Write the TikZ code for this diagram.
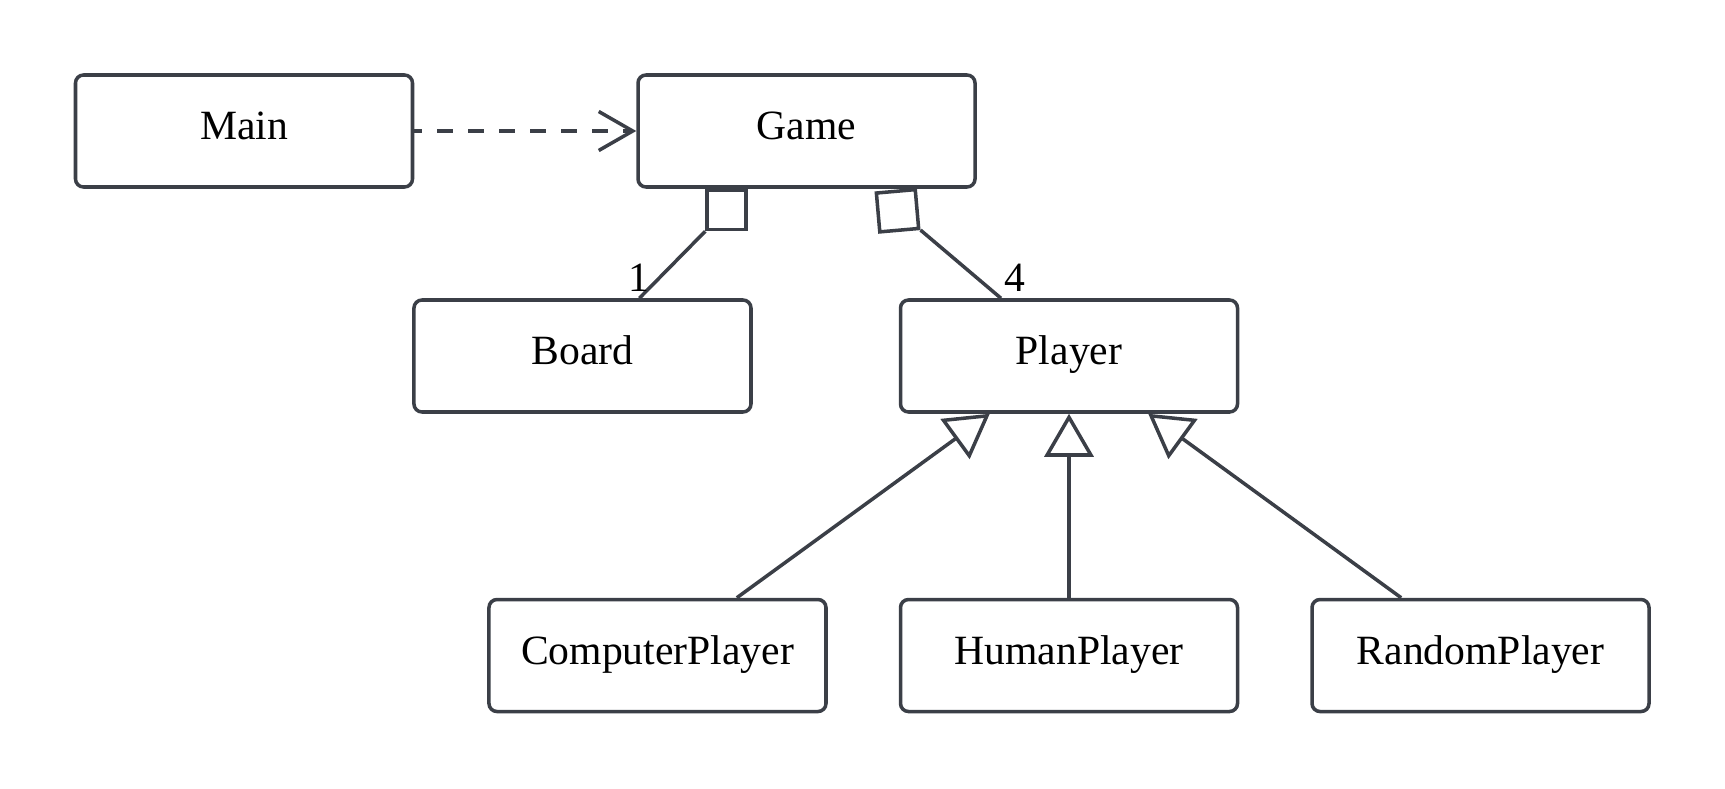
\documentclass[tikz,border=0pt]{standalone}
\usepackage{fontspec}
\setmainfont{Liberation Serif}
\usepackage{tikz}
\usetikzlibrary{shapes,arrows.meta,positioning,calc}
\definecolor{umlgray}{RGB}{59,63,71}

\begin{document}
\begin{tikzpicture}[
  font=\fontsize{23.7}{28}\selectfont,
  cls/.style={draw=umlgray, line width=2pt, rectangle, rounded corners=0.16cm,
    minimum width=6.74cm, minimum height=2.24cm, text height=0.6cm, text depth=0.26cm},
  agg/.style={draw=umlgray, line width=2pt, fill=white, minimum size=0.78cm, inner sep=0pt},
  link/.style={draw=umlgray, line width=2pt},
  inherit/.style={link, -{Triangle[open, length=0.86cm, width=0.98cm]}},
  dep/.style={link, dash pattern=on 0.32cm off 0.3cm, dash phase=0.16cm,
    -{Straight Barb[length=0.68cm, width=0.78cm]}},
  mult/.style={inner sep=1pt}
]
\useasboundingbox (-4.88,-13.14) rectangle (29.62,2.62);

% Main类
\node[cls] (main) at (0,0) {Main};

% Game类
\node[cls, right=4.44cm of main] (game) {Game};

% Player类
\node[cls] (player) at (16.5,-4.5) {Player};

% Board类
\node[cls, left=2.92cm of player] (board) {Board};

% 子类
\node[cls, below=3.68cm of player] (human) {HumanPlayer};
\node[cls, left=1.42cm of human] (computer) {ComputerPlayer};
\node[cls, right=1.42cm of human] (random) {RandomPlayer};

% 聚合
\node[agg, anchor=north, xshift=-1.6cm] (aggB) at (game.south) {};
\node[agg, rotate=5] (aggP) at ($(game.south)+(1.82,-0.44)$) {};

% 关联
\draw[dep] (main) -- (game);
\draw[link] (aggB.south west) -- node[mult, pos=1, above, yshift=2pt] {1} (board);
\draw[link] (aggP.south east) -- node[mult, pos=1, above right, yshift=2pt] {4} (player);

% 继承
\draw[inherit] (computer) -- (player);
\draw[inherit] (human) -- (player);
\draw[inherit] (random) -- (player);
\end{tikzpicture}
\end{document}
